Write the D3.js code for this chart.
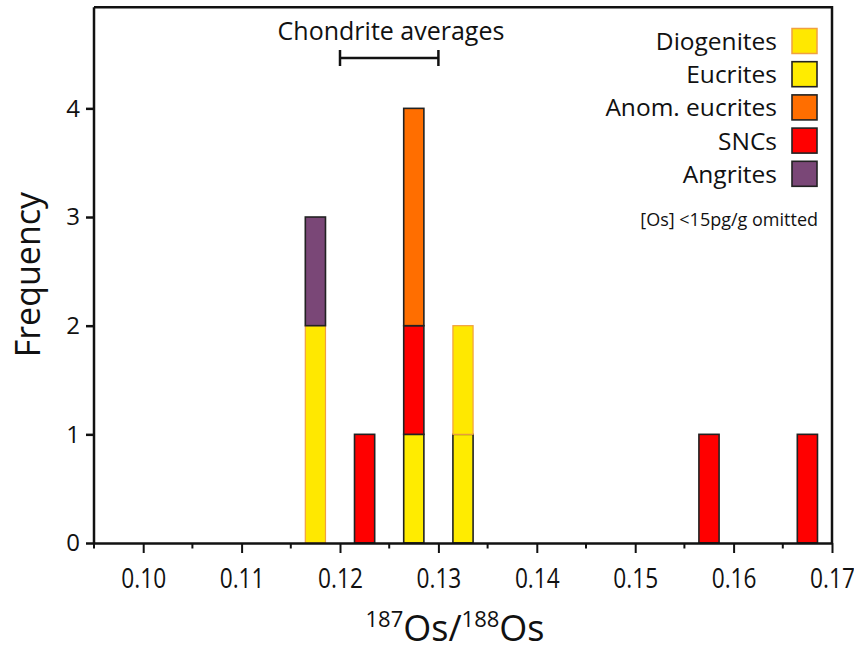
<!DOCTYPE html>
<html lang="en">
<head>
<meta charset="utf-8">
<title>Os isotope histogram</title>
<script src="https://d3js.org/d3.v7.min.js"></script>
<style>
  body { margin: 0; background: #fff; }
  svg text { font-family: "Open Sans", sans-serif; fill: #111; }
</style>
</head>
<body>
<script>
// bin centres of the 187Os/188Os histogram and counts per meteorite group
var binCenters   = [0.1175, 0.1225, 0.1275, 0.1325, 0.1575, 0.1675];
var eucrites     = [0, 0, 1, 1, 0, 0];
var diogenites   = [2, 0, 0, 1, 0, 0];
var sncs         = [0, 1, 1, 0, 1, 1];
var anomEucrites = [0, 0, 2, 0, 0, 0];
var angrites     = [1, 0, 0, 0, 0, 0];

var xTicks = [0.10, 0.11, 0.12, 0.13, 0.14, 0.15, 0.16, 0.17];
var xMinor = [0.095, 0.105, 0.115, 0.125, 0.135, 0.145, 0.155, 0.165];
var yTicks = [0, 1, 2, 3, 4];
var chondriteRange = [0.12, 0.13];

var legendNames = ["Diogenites", "Eucrites", "Anom. eucrites", "SNCs", "Angrites"];

var w = 854, h = 653;
var svg = d3.select("body").append("svg")
    .attr("width", w)
    .attr("height", h);

var x = d3.scaleLinear().domain([0.095, 0.17]).range([94, 832]);
var y = d3.scaleLinear().domain([0, 4.93]).range([543, 7.3]);

// styles per group (stacking order bottom->top)
var groups = [
  { key: "Eucrites",       vals: eucrites,     fill: "#ffec00", stroke: "#222" },
  { key: "Diogenites",     vals: diogenites,   fill: "#ffe800", stroke: "#f0a040" },
  { key: "SNCs",           vals: sncs,         fill: "#ff0000", stroke: "#222" },
  { key: "Anom. eucrites", vals: anomEucrites, fill: "#ff6e00", stroke: "#222" },
  { key: "Angrites",       vals: angrites,     fill: "#7a4777", stroke: "#222" }
];
var style = {};
groups.forEach(function(g) { style[g.key] = g; });

var table = binCenters.map(function(c, i) {
  var row = { center: c };
  groups.forEach(function(g) { row[g.key] = g.vals[i]; });
  return row;
});

var stack = d3.stack().keys(groups.map(function(g) { return g.key; }));
var series = stack(table);

var barW = 0.00205;

svg.selectAll("g.layer")
  .data(series)
  .enter().append("g")
    .attr("class", "layer")
    .attr("fill", function(d) { return style[d.key].fill; })
    .attr("stroke", function(d) { return style[d.key].stroke; })
    .attr("stroke-width", function(d) { return d.key == "Diogenites" ? 1.2 : 1.6; })
  .selectAll("rect")
  .data(function(d) { return d.filter(function(s) { return s[1] > s[0]; }); })
  .enter().append("rect")
    .attr("x", function(d) { return x(d.data.center - barW / 2); })
    .attr("width", function(d) { return x(d.data.center + barW / 2) - x(d.data.center - barW / 2); })
    .attr("y", function(d) { return y(d[1]); })
    .attr("height", function(d) { return y(d[0]) - y(d[1]); });

// frame: top and right borders
svg.append("path")
  .attr("d", "M" + x(0.095) + "," + y(4.93) + "H" + x(0.17) + "V" + y(0))
  .attr("fill", "none")
  .attr("stroke", "#111")
  .attr("stroke-width", 2.5);

// x axis
var xAxis = svg.append("g")
  .attr("transform", "translate(0," + y(0) + ")")
  .call(d3.axisBottom(x).tickValues(xTicks).tickFormat(d3.format(".2f")).tickSize(10).tickSizeOuter(0));
xAxis.select(".domain").attr("stroke", "#111").attr("stroke-width", 2.5);
xAxis.selectAll(".tick line").attr("stroke", "#111").attr("stroke-width", 2);
xAxis.selectAll(".tick text")
  .attr("y", 45)
  .attr("dy", 0)
  .attr("transform", "scale(0.81,1)")
  .style("font-family", "'Open Sans', sans-serif")
  .style("font-size", "28px")
  .attr("fill", "#111");

svg.append("g")
  .selectAll("line")
  .data(xMinor)
  .enter().append("line")
    .attr("x1", function(d) { return x(d); })
    .attr("x2", function(d) { return x(d); })
    .attr("y1", y(0))
    .attr("y2", y(0) + 5.5)
    .attr("stroke", "#111")
    .attr("stroke-width", 2);

// y axis
var yAxis = svg.append("g")
  .attr("transform", "translate(" + x(0.095) + ",0)")
  .call(d3.axisLeft(y).tickValues(yTicks).tickFormat(d3.format("d")).tickSize(8).tickSizeOuter(0));
yAxis.select(".domain").attr("stroke", "#111").attr("stroke-width", 2.5)
  .attr("d", "M0," + y(0) + "V" + y(4.93));
yAxis.selectAll(".tick line").attr("stroke", "#111").attr("stroke-width", 2.5);
yAxis.selectAll(".tick text")
  .attr("x", -14)
  .style("font-family", "'Open Sans', sans-serif")
  .style("font-size", "24px")
  .attr("fill", "#111");

// axis titles
svg.append("text")
  .attr("transform", "translate(40," + y(2.47) + ") rotate(-90)")
  .attr("text-anchor", "middle")
  .style("font-size", "34px")
  .text("Frequency");

var xt = svg.append("text")
  .attr("x", 455)
  .attr("y", 641)
  .attr("text-anchor", "middle")
  .style("font-size", "36px");
xt.append("tspan").attr("dy", -14).style("font-size", "22px").text("187");
xt.append("tspan").attr("dy", 14).text("Os/");
xt.append("tspan").attr("dy", -14).style("font-size", "22px").text("188");
xt.append("tspan").attr("dy", 14).text("Os");

// chondrite averages range
var cy = 58;
var cg = svg.append("g").attr("stroke", "#111").attr("stroke-width", 2.5);
cg.append("line").attr("x1", x(chondriteRange[0])).attr("x2", x(chondriteRange[1])).attr("y1", cy).attr("y2", cy);
chondriteRange.forEach(function(v) {
  cg.append("line").attr("x1", x(v)).attr("x2", x(v)).attr("y1", cy - 8).attr("y2", cy + 8);
});
svg.append("text")
  .attr("x", 391)
  .attr("y", 40)
  .attr("text-anchor", "middle")
  .style("font-size", "25px")
  .text("Chondrite averages");

// legend
var lg = svg.append("g").selectAll("g")
  .data(legendNames)
  .enter().append("g")
    .attr("transform", function(d, i) { return "translate(0," + (41 + i * 33.2) + ")"; });
lg.append("rect")
  .attr("x", 792)
  .attr("y", -12.5)
  .attr("width", 25)
  .attr("height", 25)
  .attr("fill", function(d) { return style[d].fill; })
  .attr("stroke", function(d) { return style[d].stroke; })
  .attr("stroke-width", function(d) { return d == "Diogenites" ? 1.5 : 1.6; });
lg.append("text")
  .attr("x", 777)
  .attr("y", 9)
  .attr("text-anchor", "end")
  .style("font-size", "24.5px")
  .text(function(d) { return d; });

svg.append("text")
  .attr("x", 818)
  .attr("y", 226)
  .attr("text-anchor", "end")
  .style("font-size", "18px")
  .text("[Os] <15pg/g omitted");
</script>
</body>
</html>
